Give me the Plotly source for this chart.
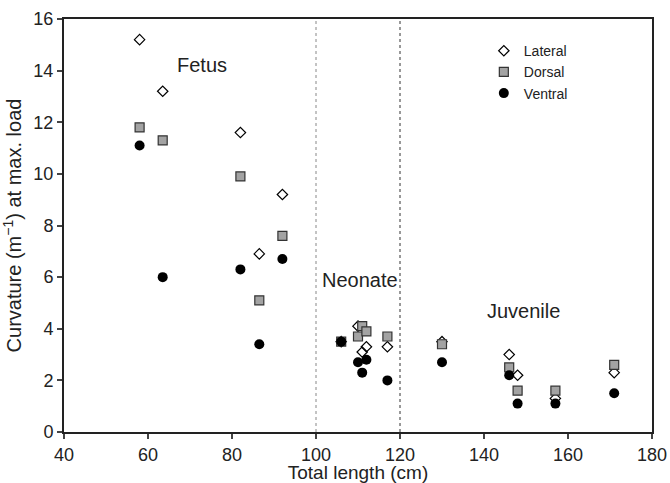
import plotly.graph_objects as go

# Lateral
lat_x = [58, 63.5, 82, 86.5, 92, 106, 110, 111, 112, 117, 130, 146, 148, 157, 171]
lat_y = [15.2, 13.2, 11.6, 6.9, 9.2, 3.5, 4.1, 3.1, 3.3, 3.3, 3.5, 3.0, 2.2, 1.3, 2.3]
# Dorsal
dor_x = [58, 63.5, 82, 86.5, 92, 106, 110, 111, 112, 117, 130, 146, 148, 157, 171]
dor_y = [11.8, 11.3, 9.9, 5.1, 7.6, 3.5, 3.7, 4.1, 3.9, 3.7, 3.4, 2.5, 1.6, 1.6, 2.6]
# Ventral
ven_x = [58, 63.5, 82, 86.5, 92, 106, 110, 111, 112, 117, 130, 146, 148, 157, 171]
ven_y = [11.1, 6.0, 6.3, 3.4, 6.7, 3.5, 2.7, 2.3, 2.8, 2.0, 2.7, 2.2, 1.1, 1.1, 1.5]

stage_bounds = [100, 120]
stage_labels = ["Fetus", "Neonate", "Juvenile"]
stage_label_x = [72.8, 110.4, 149.4]
stage_label_y = [14.2, 5.9, 4.7]

x_ticks = [40, 60, 80, 100, 120, 140, 160, 180]
y_ticks = [0, 2, 4, 6, 8, 10, 12, 14, 16]

FONT = "Liberation Sans"

fig = go.Figure()
fig.add_trace(go.Scatter(
    x=lat_x, y=lat_y, mode="markers", name="Lateral",
    marker=dict(symbol="diamond-open", size=8, color="black", line=dict(width=1.2, color="black")),
))
fig.add_trace(go.Scatter(
    x=dor_x, y=dor_y, mode="markers", name="Dorsal",
    marker=dict(symbol="square", size=9, color="#a3a3a3", line=dict(width=1.2, color="#333333")),
))
fig.add_trace(go.Scatter(
    x=ven_x, y=ven_y, mode="markers", name="Ventral",
    marker=dict(symbol="circle", size=10, color="black", line=dict(width=0)),
))

for i, b in enumerate(stage_bounds):
    fig.add_shape(type="line", x0=b, x1=b, y0=0, y1=1, xref="x", yref="paper",
                  line=dict(color="#888888" if i == 0 else "#333333", width=1, dash="dot"), layer="below")

for t, x, y in zip(stage_labels, stage_label_x, stage_label_y):
    fig.add_annotation(x=x, y=y, text=t, showarrow=False, font=dict(size=20, color="#222222", family=FONT))

fig.update_layout(
    width=670, height=483,
    margin=dict(l=64, r=18, t=19, b=51),
    paper_bgcolor="white", plot_bgcolor="white",
    font=dict(family=FONT, size=18, color="#222222"),
    showlegend=True,
    legend=dict(x=0.714, y=0.961, xanchor="left", yanchor="top",
                font=dict(size=14, family=FONT), bgcolor="rgba(0,0,0,0)",
                itemwidth=30, tracegroupgap=0),
    xaxis=dict(range=[40, 180], tickvals=x_ticks, ticks="outside", ticklen=5, tickwidth=1.5,
               showline=True, linecolor="#222222", linewidth=2, mirror=True, showgrid=False,
               zeroline=False, automargin=False,
               title=dict(text="Total length (cm)", standoff=3, font=dict(size=19, family=FONT)),
               tickfont=dict(size=18, family=FONT)),
    yaxis=dict(range=[0, 16], tickvals=y_ticks, ticks="outside", ticklen=5, tickwidth=1.5,
               showline=True, linecolor="#222222", linewidth=2, mirror=True, showgrid=False,
               zeroline=False, automargin=False,
               title=dict(text="Curvature (m<sup>−1</sup>) at max. load", standoff=6, font=dict(size=20, family=FONT)),
               tickfont=dict(size=18, family=FONT)),
)

fig.write_html("out.html")
